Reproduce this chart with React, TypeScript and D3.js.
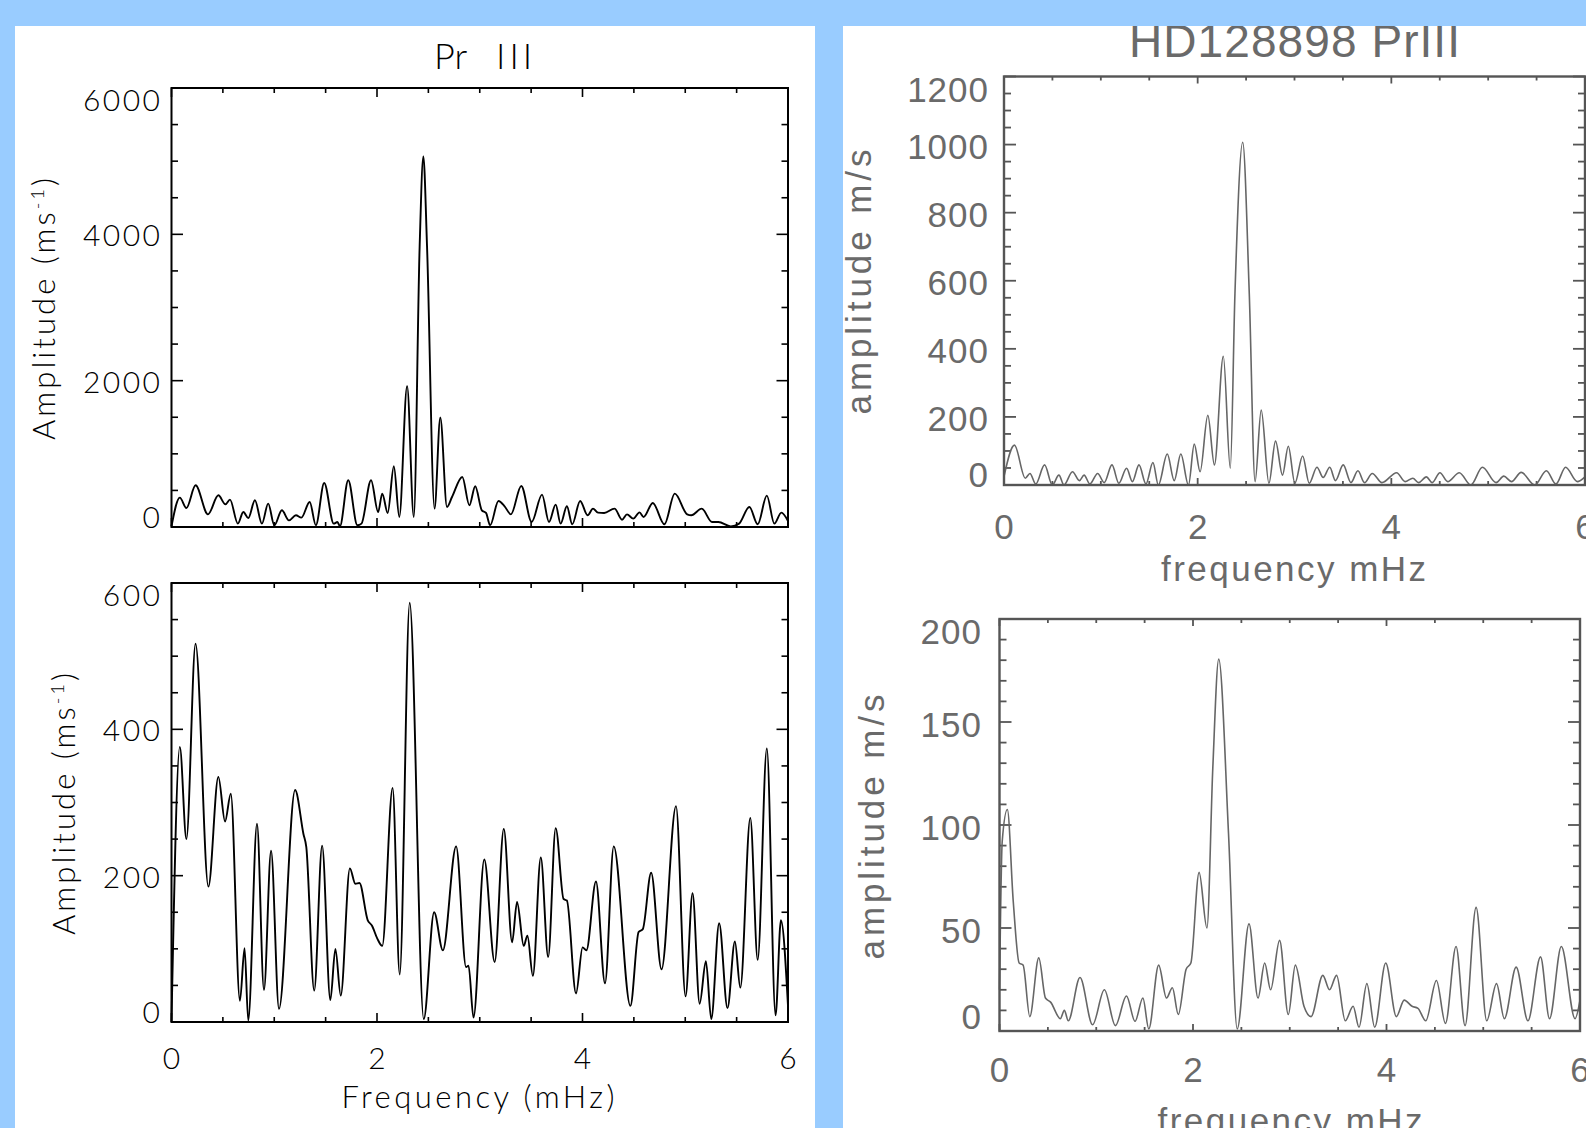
import React, { useRef, useEffect } from "react";
import * as d3 from "d3";

type Pt = [number, number];

// Pr III amplitude spectra, frequency in mHz
const prIIITop: Pt[] = [
  [0, 10], [0.081, 401], [0.145, 260], [0.234, 570], [0.355, 173], [0.456, 433],
  [0.525, 310], [0.569, 374], [0.646, 46], [0.699, 205], [0.747, 123], [0.812, 365],
  [0.88, 46], [0.941, 319], [1.001, 23], [1.074, 228], [1.143, 91], [1.211, 160],
  [1.264, 128], [1.345, 342], [1.405, 23], [1.486, 602], [1.579, 46], [1.615, 68],
  [1.639, 9], [1.72, 639], [1.809, 23], [1.849, 46], [1.942, 639], [2.011, 205],
  [2.051, 456], [2.104, 192], [2.164, 830], [2.217, 137], [2.293, 1925], [2.358, 137],
  [2.415, 3833], [2.451, 5065], [2.487, 3833], [2.56, 251], [2.616, 1497], [2.681, 274],
  [2.73, 410], [2.83, 684], [2.899, 297], [2.956, 557], [3.02, 228], [3.061, 192],
  [3.101, 23], [3.182, 356], [3.242, 283], [3.303, 173], [3.404, 561], [3.505, 68],
  [3.606, 443], [3.674, 68], [3.739, 306], [3.787, 46], [3.848, 283], [3.9, 37],
  [3.977, 356], [4.05, 160], [4.102, 251], [4.151, 196], [4.211, 192], [4.312, 251],
  [4.385, 100], [4.433, 173], [4.494, 114], [4.555, 200], [4.595, 137], [4.684, 328],
  [4.797, 37], [4.898, 456], [5.019, 173], [5.059, 160], [5.16, 251], [5.261, 68],
  [5.322, 68], [5.443, 9], [5.524, 46], [5.624, 274], [5.705, 37], [5.794, 429],
  [5.867, 46], [5.935, 196], [6.0, 82],
];

const prIIIBottom: Pt[] = [
  [0, 0], [0.081, 376], [0.145, 250], [0.234, 517], [0.359, 185], [0.456, 335],
  [0.521, 274], [0.577, 312], [0.666, 29], [0.711, 101], [0.747, 2], [0.832, 271],
  [0.9, 44], [0.969, 234], [1.046, 18], [1.203, 317], [1.284, 257], [1.312, 239],
  [1.389, 43], [1.466, 241], [1.546, 30], [1.595, 100], [1.647, 36], [1.736, 210],
  [1.789, 189], [1.829, 190], [1.91, 139], [1.95, 132], [2.003, 114], [2.051, 104],
  [2.152, 320], [2.221, 65], [2.318, 573], [2.455, 4], [2.556, 150], [2.641, 98],
  [2.77, 240], [2.867, 75], [2.891, 77], [2.939, 6], [3.044, 222], [3.145, 82],
  [3.234, 264], [3.315, 109], [3.363, 164], [3.428, 104], [3.464, 118], [3.517, 63],
  [3.594, 225], [3.666, 89], [3.739, 265], [3.816, 168], [3.848, 166], [3.937, 39],
  [4.001, 102], [4.038, 98], [4.131, 192], [4.219, 53], [4.304, 240], [4.466, 22],
  [4.546, 123], [4.587, 127], [4.668, 204], [4.769, 72], [4.91, 295], [5.003, 35],
  [5.071, 176], [5.14, 25], [5.201, 83], [5.253, 4], [5.33, 135], [5.411, 19],
  [5.483, 110], [5.536, 47], [5.633, 279], [5.705, 85], [5.794, 374], [5.879, 9],
  [5.931, 139], [6.0, 22],
];

// HD128898 PrIII
const hdTop: Pt[] = [
  [0, 25], [0.108, 117], [0.22, 20], [0.268, 34], [0.328, 3], [0.419, 59], [0.499, 0],
  [0.567, 29], [0.619, 0], [0.707, 39], [0.779, 13], [0.827, 29], [0.887, 3], [0.967, 34],
  [1.035, 7], [1.115, 59], [1.186, 5], [1.266, 49], [1.326, 10], [1.394, 59], [1.466, 3],
  [1.538, 66], [1.594, 0], [1.686, 91], [1.758, 13], [1.826, 91], [1.905, 0], [1.965, 120],
  [2.025, 39], [2.105, 205], [2.173, 59], [2.265, 378], [2.337, 49], [2.385, 562],
  [2.465, 1007], [2.533, 562], [2.593, 10], [2.656, 220], [2.736, 5], [2.804, 129],
  [2.876, 29], [2.936, 114], [3.004, 5], [3.084, 85], [3.152, 5], [3.232, 52], [3.296, 22],
  [3.364, 52], [3.423, 13], [3.503, 59], [3.583, 7], [3.655, 42], [3.723, 7], [3.803, 34],
  [3.903, 7], [4.055, 36], [4.142, 10], [4.222, 20], [4.282, 7], [4.362, 24], [4.422, 7],
  [4.502, 36], [4.582, 10], [4.702, 36], [4.821, 0], [4.941, 52], [5.081, 7], [5.161, 26],
  [5.241, 10], [5.341, 37], [5.481, 0], [5.601, 42], [5.7, 3], [5.8, 52], [5.92, 10],
  [6.0, 24],
];

const hdBottom: Pt[] = [
  [0, 20], [0.028, 92], [0.081, 107.5], [0.142, 63], [0.203, 33], [0.244, 32], [0.313, 7],
  [0.406, 35.5], [0.475, 16], [0.528, 14], [0.629, 6], [0.67, 10], [0.711, 5], [0.832, 26],
  [0.962, 3], [1.084, 20], [1.198, 2.6], [1.312, 17], [1.401, 4.7], [1.482, 16], [1.543, 1],
  [1.645, 32], [1.726, 16], [1.787, 21], [1.848, 8], [1.929, 30], [1.978, 33], [2.063, 77],
  [2.144, 50], [2.205, 128], [2.266, 180.5], [2.367, 96], [2.457, 1], [2.579, 52],
  [2.672, 16], [2.741, 33], [2.802, 20], [2.895, 44], [2.985, 8], [3.058, 32], [3.147, 12],
  [3.22, 7], [3.342, 27], [3.411, 20], [3.484, 27], [3.574, 5], [3.655, 12], [3.716, 1.8],
  [3.797, 23], [3.878, 1.8], [3.992, 33], [4.102, 7], [4.183, 15], [4.264, 12], [4.325, 11],
  [4.406, 5], [4.516, 24.5], [4.609, 3.7], [4.719, 41], [4.812, 2.6], [4.926, 60],
  [5.036, 5], [5.137, 23], [5.218, 6], [5.34, 31], [5.462, 5], [5.592, 36], [5.685, 6],
  [5.807, 41], [5.949, 6], [6.0, 15],
];

const freqTicks = [0, 2, 4, 6];
const prTopTicks = [0, 2000, 4000, 6000];
const prBottomTicks = [0, 200, 400, 600];
const hdTopTicks = [0, 200, 400, 600, 800, 1000, 1200];
const hdBottomTicks = [0, 50, 100, 150, 200];

const LEFT_FONT = "Lato, 'DejaVu Sans', sans-serif";
const RIGHT_FONT = "'Liberation Sans', Arial, sans-serif";

const drawPlot = (root, p) => {
  const x = d3.scaleLinear().domain([0, 6]).range([p.left, p.right]);
  const y = d3.scaleLinear().domain([0, p.yTicks[p.yTicks.length - 1]]).range([p.bottom, p.top]);
  const g = root.append("g");

  // ticks on all four sides
  const tickG = g.append("g").attr("stroke", p.color).attr("stroke-width", p.tickWidth);
  d3.range(0, 6.001, 0.5).forEach((v) => {
    const len = v % 2 === 0 ? p.xMajor : p.xMinor;
    tickG.append("line").attr("x1", x(v)).attr("x2", x(v)).attr("y1", p.bottom).attr("y2", p.bottom - len);
    tickG.append("line").attr("x1", x(v)).attr("x2", x(v)).attr("y1", p.top).attr("y2", p.top + len);
  });
  const yMax = p.yTicks[p.yTicks.length - 1];
  d3.range(0, yMax + 1e-6, p.yMinorStep).forEach((v) => {
    const len = p.yTicks.includes(v) ? p.yMajor : p.yMinor;
    tickG.append("line").attr("y1", y(v)).attr("y2", y(v)).attr("x1", p.left).attr("x2", p.left + len);
    tickG.append("line").attr("y1", y(v)).attr("y2", y(v)).attr("x1", p.right).attr("x2", p.right - len);
  });

  // spectrum
  const line = d3
    .line<Pt>()
    .x((d) => x(d[0]))
    .y((d) => y(d[1]))
    .curve(d3.curveMonotoneX);
  g.append("path")
    .datum(p.data)
    .attr("d", line)
    .attr("fill", "none")
    .attr("stroke", p.lineColor)
    .attr("stroke-width", p.lineWidth)
    .attr("stroke-linejoin", "round");

  // frame
  g.append("rect")
    .attr("x", p.left)
    .attr("y", p.top)
    .attr("width", p.right - p.left)
    .attr("height", p.bottom - p.top)
    .attr("fill", "none")
    .attr("stroke", p.color)
    .attr("stroke-width", p.frameWidth);

  // y tick labels (end labels pushed inside the frame, as in the original)
  const labels = g
    .append("g")
    .attr("font-family", p.font)
    .attr("font-weight", p.fontWeight)
    .attr("font-size", p.fontSize)
    .attr("fill", p.textColor)
    .attr("letter-spacing", p.letterSpacing);
  p.yTicks.forEach((v, i) => {
    const off = i === 0 ? p.yOffBottom : i === p.yTicks.length - 1 ? p.yOffTop : p.yOffMid;
    labels
      .append("text")
      .attr("x", p.yLabelRight + p.letterSpacing)
      .attr("y", y(v) + off)
      .attr("text-anchor", "end")
      .text(v);
  });

  if (p.xLabelBase != null) {
    freqTicks.forEach((v) => {
      labels
        .append("text")
        .attr("x", x(v) + p.letterSpacing / 2)
        .attr("y", p.xLabelBase)
        .attr("text-anchor", "middle")
        .text(v);
    });
  }
};

const App = () => {
  const svgRef = useRef(null);

  useEffect(() => {
    const svg = d3.select(svgRef.current);
    const W = 1586;
    const H = 1128;
    svg.attr("width", W).attr("height", H).attr("viewBox", `0 0 ${W} ${H}`);

    svg.append("rect").attr("width", W).attr("height", H).attr("fill", "#99ccff");

    // ---- left panel ----
    svg.append("rect").attr("x", 15).attr("y", 26).attr("width", 800).attr("height", H - 26).attr("fill", "#fff");

    const leftBase = {
      left: 171.5,
      right: 788,
      color: "#000",
      lineColor: "#000",
      textColor: "#000",
      lineWidth: 1.9,
      frameWidth: 2,
      tickWidth: 1.6,
      xMajor: 9,
      xMinor: 5,
      yMajor: 11.5,
      yMinor: 6.5,
      font: LEFT_FONT,
      fontWeight: 300,
      fontSize: 30,
      letterSpacing: 2.5,
      yLabelRight: 160,
      yOffTop: 22.5,
      yOffMid: 12,
      yOffBottom: 1,
    };

    drawPlot(svg, {
      ...leftBase,
      data: prIIITop,
      top: 88,
      bottom: 527,
      yTicks: prTopTicks,
      yMinorStep: 500,
      xLabelBase: null,
    });
    drawPlot(svg, {
      ...leftBase,
      data: prIIIBottom,
      top: 583,
      bottom: 1022,
      yTicks: prBottomTicks,
      yMinorStep: 50,
      xLabelBase: 1069,
    });

    const leftText = svg
      .append("g")
      .attr("font-family", LEFT_FONT)
      .attr("font-weight", 300)
      .attr("fill", "#000");

    leftText.append("text").attr("x", 434).attr("y", 69).attr("font-size", 36).text("Pr");
    leftText
      .append("text")
      .attr("x", 496)
      .attr("y", 69)
      .attr("font-size", 36)
      .attr("letter-spacing", 4)
      .text("III");

    leftText
      .append("text")
      .attr("x", 478)
      .attr("y", 1108)
      .attr("font-size", 31)
      .attr("text-anchor", "middle")
      .attr("textLength", 273)
      .attr("lengthAdjust", "spacing")
      .text("Frequency (mHz)");

    [
      [55, 309],
      [75, 804],
    ].forEach(([bx, cy]) => {
      const t = leftText
        .append("text")
        .attr("transform", `translate(${bx},${cy}) rotate(-90)`)
        .attr("font-size", 31)
        .attr("text-anchor", "middle")
        .attr("textLength", 262)
        .attr("lengthAdjust", "spacing");
      t.append("tspan").text("Amplitude (ms");
      t.append("tspan").attr("dy", -11).attr("font-size", 18).text("-1");
      t.append("tspan").attr("dy", 11).text(")");
    });

    // ---- right panel ----
    const clip = svg.append("defs").append("clipPath").attr("id", "rightPanel");
    clip.append("rect").attr("x", 843).attr("y", 26).attr("width", W - 843).attr("height", H - 26);
    const right = svg.append("g").attr("clip-path", "url(#rightPanel)");
    right.append("rect").attr("x", 843).attr("y", 26).attr("width", W - 843).attr("height", H - 26).attr("fill", "#fff");

    const rightBase = {
      color: "#555",
      lineColor: "#666",
      textColor: "#6a6a6a",
      lineWidth: 1.6,
      frameWidth: 2.4,
      tickWidth: 1.8,
      xMajor: 7,
      xMinor: 4,
      yMajor: 12,
      yMinor: 7,
      font: RIGHT_FONT,
      fontWeight: 400,
      fontSize: 35,
      letterSpacing: 1,
      yOffTop: 25,
      yOffMid: 14.5,
      yOffBottom: 2,
    };

    drawPlot(right, {
      ...rightBase,
      data: hdTop,
      left: 1004,
      right: 1585,
      top: 76.5,
      bottom: 485,
      yTicks: hdTopTicks,
      yMinorStep: 50,
      yLabelRight: 988,
      xLabelBase: 538.5,
    });
    drawPlot(right, {
      ...rightBase,
      data: hdBottom,
      left: 999.5,
      right: 1580,
      top: 619,
      bottom: 1031,
      yTicks: hdBottomTicks,
      yMinorStep: 10,
      yLabelRight: 981,
      yOffBottom: -2,
      xLabelBase: 1082,
    });

    const rightText = right.append("g").attr("font-family", RIGHT_FONT).attr("fill", "#6a6a6a");

    rightText
      .append("text")
      .attr("x", 1294.5)
      .attr("y", 57)
      .attr("font-size", 46)
      .attr("text-anchor", "middle")
      .attr("textLength", 331)
      .attr("lengthAdjust", "spacing")
      .text("HD128898  PrIII");

    [
      [1293.5, 581],
      [1290, 1133],
    ].forEach(([cx, by]) => {
      rightText
        .append("text")
        .attr("x", cx)
        .attr("y", by)
        .attr("font-size", 35)
        .attr("text-anchor", "middle")
        .attr("textLength", 265)
        .attr("lengthAdjust", "spacing")
        .text("frequency  mHz");
    });

    [
      [871, 282],
      [884, 827],
    ].forEach(([bx, cy]) => {
      rightText
        .append("text")
        .attr("transform", `translate(${bx},${cy}) rotate(-90)`)
        .attr("font-size", 35)
        .attr("text-anchor", "middle")
        .attr("textLength", 265)
        .attr("lengthAdjust", "spacing")
        .text("amplitude  m/s");
    });

    return () => {
      svg.selectAll("*").remove();
    };
  }, []);

  return (
    <svg
      ref={svgRef}
      style={{ position: "absolute", left: 0, top: 0, display: "block" }}
    />
  );
};

export default App;
